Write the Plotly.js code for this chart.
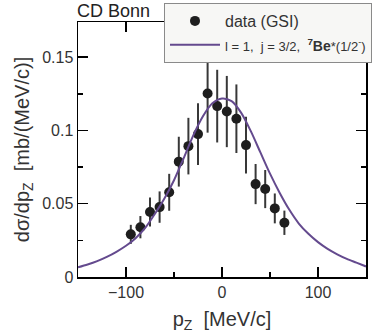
<!DOCTYPE html>
<html>
<head>
<meta charset="utf-8">
<script src="https://cdn.plot.ly/plotly-3.0.1.min.js"></script>
<style>
  html, body { margin: 0; padding: 0; background: #ffffff; }
  #plot { width: 374px; height: 333px; }
</style>
</head>
<body>
<div id="plot"></div>
<script>
// Measured points (GSI)
const pz = [-95, -85, -75, -65, -55, -45, -35, -25, -15, -5, 5, 15, 25, 35, 45, 55, 65];
const dsig = [0.0291, 0.0340, 0.0443, 0.0477, 0.0578, 0.0787, 0.0893, 0.0975, 0.1252, 0.1166,
  0.1129, 0.1080, 0.0900, 0.0634, 0.0600, 0.0468, 0.0370];
const dsigErr = [0.0065, 0.0076, 0.0099, 0.0107, 0.0126, 0.0170, 0.0193, 0.0210, 0.0267, 0.0248,
  0.0243, 0.0234, 0.0193, 0.0137, 0.0130, 0.0102, 0.0083];

// Theory curve, every 10 MeV/c
const curvePz = [-150, -140, -130, -120, -110, -100, -90, -80, -70, -60, -50, -40, -30, -20, -10, 0,
  10, 20, 30, 40, 50, 60, 70, 80, 90, 100, 110, 120, 130, 140, 150];
const curveVal = [0.0066, 0.0085, 0.0108, 0.0137, 0.0172, 0.0213, 0.0265, 0.0335, 0.0430, 0.0535,
  0.0660, 0.0810, 0.0965, 0.1095, 0.1185, 0.1218, 0.1200, 0.1120, 0.0995, 0.0850, 0.0705, 0.0575,
  0.0460, 0.0365, 0.0295, 0.0238, 0.0192, 0.0155, 0.0124, 0.0098, 0.0072];

const font = "Liberation Sans, Arial, Helvetica, sans-serif";
const nb = "\u00a0";

const traces = [
  {
    type: "scatter",
    mode: "markers",
    name: "data (GSI)",
    x: pz,
    y: dsig,
    error_y: { type: "data", array: dsigErr, visible: true, color: "#383838", thickness: 2, width: 0 },
    marker: { size: 10, color: "#1e1e1e" }
  },
  {
    type: "scatter",
    mode: "lines",
    name: `<span style="font-size:13px">l = 1,${nb} j = 3/2,${nb}${nb}</span><span style="font-size:14px"><b><sup>7</sup>Be</b></span><span style="font-size:13px">*(1/2<sup>-</sup>)</span>`,
    x: curvePz,
    y: curveVal,
    line: { color: "#644a8e", width: 2, shape: "spline", smoothing: 0.8 }
  }
];

const axisCommon = {
  showline: true,
  linecolor: "#000000",
  linewidth: 1.5,
  mirror: "ticks",
  ticks: "inside",
  ticklen: 10,
  tickwidth: 1.5,
  tickcolor: "#000000",
  showgrid: false,
  zeroline: false,
  tickfont: { family: font, size: 16, color: "#333333" }
};

const layout = {
  width: 374,
  height: 333,
  margin: { l: 78, r: 8, t: 22, b: 56, autoexpand: false },
  paper_bgcolor: "#ffffff",
  plot_bgcolor: "#ffffff",
  font: { family: font, color: "#333333" },
  xaxis: Object.assign({}, axisCommon, {
    range: [-150, 150],
    tickvals: [-100, 0, 100],
    minor: { tickvals: [-50, 50], ticks: "inside", ticklen: 5, tickwidth: 1.5, tickcolor: "#000000" },
    title: { text: `p<sub>Z</sub>${nb}${nb}[MeV/c]`, font: { family: font, size: 20, color: "#333333" }, standoff: 13 }
  }),
  yaxis: Object.assign({}, axisCommon, {
    range: [0, 0.174],
    tickvals: [0, 0.05, 0.1, 0.15],
    ticktext: ["0", "0.05", "0.1", "0.15"],
    minor: { tickvals: [0.025, 0.075, 0.125], ticks: "inside", ticklen: 5, tickwidth: 1.5, tickcolor: "#000000" },
    title: { text: `dσ/dp<sub>Z</sub>${nb}${nb}[mb/(MeV/c)]`, font: { family: font, size: 20, color: "#333333" }, standoff: 7 }
  }),
  showlegend: true,
  legend: {
    x: 0.2986,
    xanchor: "left",
    y: 1.0745,
    yanchor: "top",
    bgcolor: "#f7f7f5",
    bordercolor: "#8a8a8a",
    borderwidth: 1,
    font: { family: font, size: 16, color: "#333333" },
    itemwidth: 50,
    tracegroupgap: 0
  },
  annotations: [{
    text: "CD Bonn",
    xref: "paper",
    yref: "paper",
    x: 0,
    y: 1,
    xanchor: "left",
    yanchor: "bottom",
    showarrow: false,
    xshift: -3,
    yshift: -1,
    font: { family: font, size: 18, color: "#222222" }
  }]
};

Plotly.newPlot("plot", traces, layout, { displayModeBar: false, staticPlot: true });
</script>
</body>
</html>
